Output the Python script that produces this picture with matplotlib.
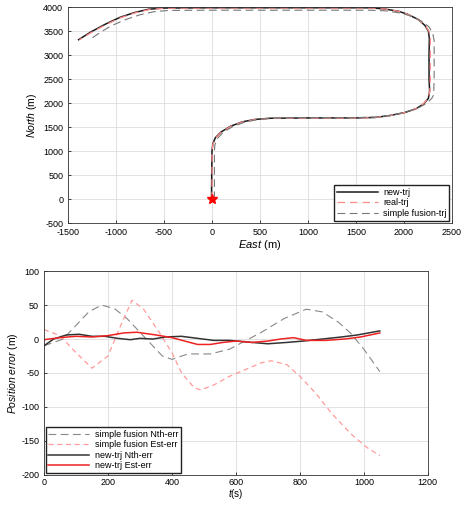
import matplotlib
matplotlib.use('Agg')
import matplotlib.pyplot as plt

plt.rcParams['font.family'] = ['Liberation Sans', 'DejaVu Sans']
plt.rcParams['mathtext.fontset'] = 'custom'
plt.rcParams['mathtext.it'] = 'Liberation Sans:italic'
plt.rcParams['mathtext.rm'] = 'Liberation Sans'
plt.rcParams['axes.unicode_minus'] = False

# trajectories (East, North) in m
real_e = [0, 0, 0, 10, 40, 100, 200, 320, 450, 600, 1000, 1500, 1700, 1850, 2000, 2120,
          2200, 2250, 2270, 2275, 2275, 2275, 2260, 2220, 2150, 2050, 1950, 1800, 1650,
          1000, 0, -500, -650, -800, -950, -1100, -1250, -1380]
real_n = [0, 500, 1000, 1150, 1280, 1400, 1520, 1610, 1660, 1680, 1690, 1690, 1700, 1740,
          1800, 1880, 1980, 2100, 2250, 2500, 3000, 3350, 3500, 3620, 3740, 3840, 3910,
          3960, 3980, 3980, 3980, 3975, 3950, 3880, 3780, 3640, 3480, 3320]
new_e = [-5, -3, 0, 8, 35, 95, 195, 315, 445, 600, 1000, 1500, 1700, 1855, 2005, 2125,
         2205, 2255, 2268, 2262, 2262, 2265, 2255, 2218, 2150, 2050, 1950, 1800, 1650,
         1000, 0, -500, -660, -810, -960, -1110, -1260, -1390]
new_n = [50, 500, 1000, 1150, 1280, 1400, 1520, 1610, 1660, 1685, 1692, 1692, 1702, 1742,
         1802, 1882, 1982, 2100, 2250, 2500, 3000, 3350, 3500, 3620, 3740, 3840, 3910,
         3960, 3985, 3985, 3985, 3980, 3955, 3885, 3785, 3645, 3485, 3320]
sf_e = [25, 25, 25, 30, 55, 115, 215, 335, 465, 620, 1000, 1500, 1720, 1880, 2030, 2150,
        2240, 2290, 2310, 2315, 2315, 2315, 2300, 2260, 2190, 2090, 1980, 1820, 1650,
        1000, 0, -450, -600, -750, -900, -1050, -1150, -1270]
sf_n = [0, 500, 1000, 1130, 1260, 1390, 1510, 1600, 1655, 1685, 1700, 1700, 1710, 1750,
        1820, 1900, 2000, 2100, 2170, 2500, 3000, 3300, 3460, 3590, 3700, 3800, 3870,
        3920, 3935, 3935, 3935, 3930, 3905, 3840, 3740, 3610, 3490, 3330]

# position errors vs time
t_sf_n = [0, 30, 60, 100, 140, 180, 220, 260, 300, 330, 370, 400, 450, 520, 580, 620, 680,
          750, 820, 870, 920, 960, 1000, 1050]
sf_nth = [-10, -5, 0, 20, 40, 50, 45, 30, 10, -5, -25, -30, -22, -22, -15, -5, 10, 30,
          44, 40, 25, 8, -15, -48]
t_sf_e = [0, 50, 100, 150, 200, 240, 275, 310, 360, 400, 430, 470, 490, 530, 580, 630,
          680, 710, 760, 800, 850, 900, 960, 1010, 1050]
sf_est = [14, 5, -20, -43, -25, 20, 57, 45, 10, -20, -50, -72, -75, -68, -55, -45, -35,
          -32, -38, -55, -80, -110, -140, -160, -172]
t_new = [0, 30, 70, 110, 150, 190, 230, 270, 300, 340, 380, 430, 480, 530, 580, 650, 700,
         760, 810, 870, 930, 980, 1050]
new_nth = [-10, 0, 6, 7, 4, 4, 1, -1, 1, 0, 3, 4, 1, -2, -2, -5, -7, -5, -3, 0, 3, 6, 12]
t_new_e = [0, 50, 100, 150, 200, 250, 290, 350, 400, 440, 480, 520, 560, 600, 650, 700,
           740, 780, 820, 880, 940, 990, 1050]
new_est = [-1, 2, 4, 3, 5, 9, 10, 6, 2, -3, -8, -8, -5, -3, -5, -3, 0, 2, -2, -2, 0, 3, 9]

fig = plt.figure(figsize=(4.63, 5.05), dpi=100)

# top: trajectories
ax1 = fig.add_axes([0.147, 0.558, 0.829, 0.428])
ax1.plot(new_e, new_n, color='#1a1a1a', lw=1.1, label='new-trj')
ax1.plot(real_e, real_n, color='#ff8a8a', lw=0.9, ls=(0, (6, 4)), label='real-trj')
ax1.plot(sf_e, sf_n, color='#777777', lw=0.8, ls=(0, (7, 4)), label='simple fusion-trj')
ax1.plot(0, 0, marker='*', color='red', ms=7, ls='none')
ax1.set_xlim(-1500, 2500)
ax1.set_ylim(-500, 4000)
ax1.set_xticks(range(-1500, 2501, 500))
ax1.set_yticks(range(-500, 4001, 500))
ax1.set_xlabel(r'$\it{East}$ (m)', fontsize=8, labelpad=1)
ax1.set_ylabel(r'$\it{North}$ (m)', fontsize=7.5, labelpad=3)
ax1.legend(loc='lower right', fontsize=6.5, handlelength=4.5, fancybox=False,
           edgecolor='#222222', framealpha=1, borderpad=0.3, labelspacing=0.15,
           handletextpad=0.6, borderaxespad=0.3)

# bottom: errors
ax2 = fig.add_axes([0.095, 0.060, 0.829, 0.403])
ax2.plot(t_sf_n, sf_nth, color='#888888', lw=0.8, ls=(0, (7, 4)), label='simple fusion Nth-err')
ax2.plot(t_sf_e, sf_est, color='#ff9a9a', lw=0.9, ls=(0, (4, 3)), label='simple fusion Est-err')
ax2.plot(t_new, new_nth, color='#333333', lw=1.1, label='new-trj Nth-err')
ax2.plot(t_new_e, new_est, color='#ee2222', lw=1.1, label='new-trj Est-err')
ax2.set_xlim(0, 1200)
ax2.set_ylim(-200, 100)
ax2.set_xticks(range(0, 1201, 200))
ax2.set_yticks(range(-200, 101, 50))
ax2.set_xlabel(r'$\it{t}$(s)', fontsize=7, labelpad=0)
ax2.set_ylabel(r'$\it{Position\ error}$ (m)', fontsize=7.5, labelpad=1)
ax2.legend(loc='lower left', fontsize=6.5, handlelength=4.5, fancybox=False,
           edgecolor='#222222', framealpha=1, borderpad=0.3, labelspacing=0.15,
           handletextpad=0.6, borderaxespad=0.2)

for ax in (ax1, ax2):
    ax.grid(True, color='#dddddd', lw=0.6)
    ax.set_axisbelow(True)
    ax.tick_params(direction='in', length=2, labelsize=6.5, width=0.5)
    ax.tick_params(axis='x', pad=3.5)
    ax.tick_params(axis='y', pad=3.5)
    for s in ax.spines.values():
        s.set_linewidth(0.6)
        s.set_color('#333333')
ax2.tick_params(axis='x', pad=2.5)

fig.savefig('out.png', dpi=100)
